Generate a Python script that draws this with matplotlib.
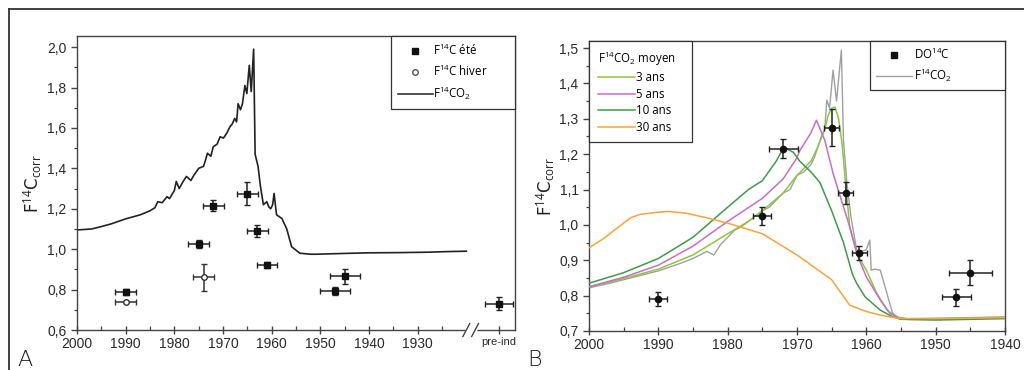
import matplotlib
matplotlib.use("Agg")
import matplotlib.pyplot as plt
from matplotlib.lines import Line2D
from matplotlib.ticker import FuncFormatter, MultipleLocator, FixedLocator

plt.rcParams['mathtext.fontset'] = 'custom'
plt.rcParams['mathtext.rm'] = 'Open Sans'
plt.rcParams['mathtext.it'] = 'Open Sans:italic'
plt.rcParams['mathtext.bf'] = 'Open Sans:bold'

# ---------------- Panel A data ----------------
co2A_years = [2000, 1997, 1995.3, 1993, 1990, 1987, 1985, 1984, 1983.4, 1982.5, 1981.5, 1981, 1980,
              1979.6, 1979, 1978.2, 1977.5, 1976.6, 1976, 1975, 1974, 1973.6, 1973.2, 1972.5, 1972,
              1971.2, 1970.6, 1969.9, 1969.2, 1968.6, 1968.1, 1967.6, 1967.2, 1966.9, 1966.4, 1966,
              1965.5, 1965.1, 1964.6, 1964.2, 1963.7, 1963.4, 1962.8, 1962.3, 1961.7, 1961, 1960.6,
              1960.2, 1959.8, 1959.5, 1959, 1957.9, 1956.9, 1955.9, 1954.2, 1952, 1950.8, 1948,
              1943.3, 1940, 1933.8, 1928, 1924, 1920]
co2A_vals = [1.095, 1.10, 1.11, 1.125, 1.15, 1.17, 1.19, 1.205, 1.235, 1.23, 1.26, 1.25, 1.29,
             1.335, 1.30, 1.335, 1.36, 1.34, 1.365, 1.40, 1.41, 1.44, 1.475, 1.46, 1.507,
             1.52, 1.556, 1.55, 1.575, 1.605, 1.62, 1.647, 1.63, 1.72, 1.69, 1.72,
             1.81, 1.77, 1.91, 1.78, 1.99, 1.47, 1.41, 1.31, 1.22, 1.235, 1.21,
             1.20, 1.22, 1.276, 1.17, 1.152, 1.10, 1.012, 0.98, 0.975, 0.975, 0.977,
             0.98, 0.982, 0.983, 0.985, 0.988, 0.99]

ete_years = [1990, 1975, 1972, 1965, 1963, 1961, 1947, 1945, 1913.3]
ete_vals = [0.79, 1.025, 1.215, 1.275, 1.09, 0.92, 0.795, 0.865, 0.73]
ete_xerr = [2.2, 2.1, 2.15, 2.15, 2.15, 2.05, 3.1, 3.1, 2.8]
ete_yerr = [0.015, 0.02, 0.026, 0.055, 0.03, 0.015, 0.02, 0.037, 0.031]

hiver_years = [1990, 1974]
hiver_vals = [0.74, 0.86]
hiver_xerr = [2.2, 2.2]
hiver_yerr = [0.0, 0.066]

xticksA = [2000, 1990, 1980, 1970, 1960, 1950, 1940, 1930, 1913.3]
xlabelsA = ['2000', '1990', '1980', '1970', '1960', '1950', '1940', '1930', 'pre-ind']

# ---------------- Panel B data ----------------
co2B_years = [2000, 1997, 1995, 1992, 1990, 1987, 1985, 1983, 1982, 1981, 1980, 1979, 1978, 1977,
              1976, 1975, 1974, 1973, 1972, 1971, 1970, 1969, 1968.5, 1968, 1967.5, 1967, 1966.5,
              1966, 1965.7, 1965.3, 1964.8, 1964.3, 1963.6, 1963.3, 1962.8, 1962.2, 1961.4,
              1960.7, 1960, 1959.5, 1959.3, 1958.8, 1958, 1957.3, 1956.8, 1956.2, 1955.3, 1954,
              1950, 1945, 1940]
co2B_vals = [0.822, 0.835, 0.845, 0.86, 0.87, 0.89, 0.905, 0.925, 0.915, 0.945, 0.965, 0.985, 0.995,
             1.01, 1.025, 1.04, 1.05, 1.07, 1.09, 1.10, 1.14, 1.15, 1.16, 1.17, 1.19, 1.22, 1.25,
             1.27, 1.353, 1.33, 1.438, 1.35, 1.494, 1.24, 1.118, 1.02, 0.93,
             0.925, 0.93, 0.957, 0.872, 0.875, 0.872, 0.825, 0.79, 0.75, 0.737, 0.735,
             0.736, 0.738, 0.74]

m3_years = [2000, 1995, 1990, 1985, 1980, 1977, 1975, 1972, 1970, 1968, 1967, 1966, 1965.5, 1965,
            1964.5, 1964, 1963.5, 1963, 1962.4, 1961.4, 1960, 1958.5, 1957, 1955.7, 1954, 1950,
            1945, 1940]
m3_vals = [0.825, 0.848, 0.875, 0.915, 0.975, 1.01, 1.04, 1.09, 1.14, 1.18, 1.22, 1.27, 1.31, 1.33,
           1.333, 1.30, 1.23, 1.12, 0.995, 0.92, 0.872, 0.807, 0.759, 0.74, 0.734, 0.734,
           0.736, 0.738]

m5_years = [2000, 1995, 1990, 1985, 1980, 1975, 1972, 1970, 1969.6, 1968, 1967.2, 1966, 1964.8,
            1963.6, 1962.4, 1961.2, 1960, 1958, 1956.6, 1955.2, 1954, 1950, 1940]
m5_vals = [0.825, 0.852, 0.886, 0.94, 1.01, 1.075, 1.13, 1.19, 1.21, 1.26, 1.296, 1.24, 1.146,
           1.07, 0.995, 0.91, 0.853, 0.788, 0.75, 0.735, 0.733, 0.733, 0.737]

m10_years = [2000, 1995, 1990, 1985, 1980, 1977, 1975, 1973, 1971.9, 1970.5, 1969.6, 1968, 1966.7,
             1965, 1963.3, 1962, 1961.4, 1960.2, 1958, 1956.2, 1955, 1950, 1940]
m10_vals = [0.835, 0.865, 0.905, 0.965, 1.05, 1.10, 1.125, 1.18, 1.22, 1.205, 1.18, 1.15, 1.12,
            1.04, 0.95, 0.86, 0.835, 0.797, 0.759, 0.74, 0.733, 0.731, 0.735]

m30_years = [2000, 1998, 1996, 1994, 1992.6, 1990, 1988.5, 1986, 1983, 1980, 1975, 1970, 1965,
             1962.4, 1960, 1958, 1956.6, 1955, 1950, 1945, 1940]
m30_vals = [0.935, 0.96, 0.99, 1.02, 1.03, 1.036, 1.038, 1.033, 1.02, 1.005, 0.975, 0.915, 0.845,
            0.773, 0.755, 0.745, 0.74, 0.735, 0.735, 0.736, 0.738]

do_years = [1990, 1975, 1972, 1965, 1963, 1961, 1947, 1945]
do_vals = [0.79, 1.025, 1.215, 1.275, 1.09, 0.92, 0.795, 0.865]
do_xerr = [1.3, 1.3, 2.1, 1.1, 1.1, 1.1, 2.1, 3.1]
do_yerr = [0.02, 0.025, 0.027, 0.053, 0.03, 0.02, 0.024, 0.036]

# ---------------- Figure ----------------
W, H = 1024, 370
fig = plt.figure(figsize=(W / 100, H / 100), dpi=100)
fig.patch.set_facecolor('white')

# outer frame
fig.add_artist(Line2D([9 / W, 9 / W], [0, 1 - 9 / H], color='#333333', lw=1.3))
fig.add_artist(Line2D([9 / W, 1], [1 - 9 / H, 1 - 9 / H], color='#333333', lw=1.3))

comma = FuncFormatter(lambda v, p: ('%.1f' % v).replace('.', ','))
leg_font = {'family': 'Open Sans', 'size': 8.3}


def style_axes(ax):
    for s in ax.spines.values():
        s.set_color('#444444')
        s.set_linewidth(1.0)
    ax.tick_params(axis='both', which='major', colors='#444444', labelcolor='#2a2a2a',
                   labelsize=10, width=1.0)
    ax.tick_params(axis='y', which='major', direction='out', length=4)
    ax.tick_params(axis='y', which='minor', direction='out', length=2.5, width=0.9, colors='#444444')
    ax.tick_params(axis='x', which='major', direction='inout', length=6, pad=2)
    ax.tick_params(axis='x', which='minor', direction='in', length=3, width=0.9, colors='#444444')
    ax.yaxis.set_major_formatter(comma)
    for lab in ax.get_xticklabels() + ax.get_yticklabels():
        lab.set_family('Liberation Sans')


# ---- Panel A ----
axA = fig.add_axes([77 / W, 1 - 330 / H, (515 - 77) / W, (330 - 36) / H])
axA.plot(co2A_years, co2A_vals, color='#222222', lw=1.2, zorder=2)
axA.errorbar(ete_years, ete_vals, xerr=ete_xerr, yerr=ete_yerr, fmt='s', ms=4.5,
             color='#111111', mfc='#111111', mec='#111111', ecolor='#222222',
             elinewidth=1.1, capsize=2.2, capthick=1.0, zorder=4)
axA.errorbar(hiver_years, hiver_vals, xerr=hiver_xerr, yerr=hiver_yerr, fmt='o', ms=4,
             mfc='white', mec='#333333', ecolor='#333333', elinewidth=1.1, capsize=2.2,
             capthick=1.0, zorder=4)
axA.set_xlim(2000, 1910)
axA.set_ylim(0.6, 2.055)
axA.xaxis.set_major_locator(FixedLocator(xticksA))
axA.set_xticklabels(xlabelsA)
axA.xaxis.set_minor_locator(FixedLocator(list(range(1995, 1920, -10))))
axA.yaxis.set_major_locator(MultipleLocator(0.2))
axA.yaxis.set_minor_locator(MultipleLocator(0.1))
style_axes(axA)
axA.get_xticklabels()[-1].set_fontsize(8)
axA.set_ylabel(r'F$^{\mathrm{14}}$C$_{\mathrm{corr}}$', fontsize=12, labelpad=2, color='#222222')

# axis break
xt = axA.get_xaxis_transform()
axA.plot([1920.3, 1917.9], [0, 0], transform=xt, color='white', lw=2.5, clip_on=False, zorder=5,
         solid_capstyle='butt')
for xb in (1920.0, 1918.2):
    axA.plot([xb + 0.7, xb - 0.7], [-0.022, 0.022], transform=xt, color='#444444', lw=1.0,
             clip_on=False, zorder=6)

hA = [Line2D([], [], ls='none', marker='s', ms=4, color='#111111'),
      Line2D([], [], ls='none', marker='o', ms=4, mfc='white', mec='#555555'),
      Line2D([], [], color='#333333', lw=1.2)]
lA = axA.legend(hA, [r'F$^{\mathrm{14}}$C été', r'F$^{\mathrm{14}}$C hiver',
                     r'F$^{\mathrm{14}}$CO$_{\mathrm{2}}$'],
                loc='upper right', bbox_to_anchor=(0.717, 0.0, 0.283, 1.0), mode='expand',
                borderaxespad=0, prop=leg_font,
                fancybox=False, framealpha=1, edgecolor='#333333', handlelength=3.0,
                labelspacing=0.5, handletextpad=0.05, borderpad=0.6)
lA.get_frame().set_linewidth(0.9)

# ---- Panel B ----
axB = fig.add_axes([589 / W, 1 - 331 / H, (1005 - 589) / W, (331 - 41) / H])
l3, = axB.plot(m3_years, m3_vals, color='#8dc63f', lw=1.1, zorder=3)
l5, = axB.plot(m5_years, m5_vals, color='#c86ec4', lw=1.1, zorder=3)
l10, = axB.plot(m10_years, m10_vals, color='#3f9a4a', lw=1.1, zorder=3)
l30, = axB.plot(m30_years, m30_vals, color='#f5a53a', lw=1.1, zorder=3)
lg, = axB.plot(co2B_years, co2B_vals, color='#a0a0a0', lw=1.0, zorder=2)
axB.errorbar(do_years, do_vals, xerr=do_xerr, yerr=do_yerr, fmt='o', ms=4.5,
             color='#111111', ecolor='#222222', elinewidth=1.1, capsize=2.2, capthick=1.0, zorder=5)
axB.set_xlim(2000, 1940)
axB.set_ylim(0.7, 1.52)
axB.xaxis.set_major_locator(MultipleLocator(10))
axB.xaxis.set_minor_locator(MultipleLocator(5))
axB.xaxis.set_major_formatter(FuncFormatter(lambda v, p: '%d' % round(v)))
axB.yaxis.set_major_locator(MultipleLocator(0.1))
axB.yaxis.set_minor_locator(MultipleLocator(0.05))
style_axes(axB)
axB.set_ylabel(r'F$^{\mathrm{14}}$C$_{\mathrm{corr}}$', fontsize=12, labelpad=2, color='#222222')

lB1 = axB.legend([l3, l5, l10, l30], ['3 ans', '5 ans', '10 ans', '30 ans'],
                 title=r'F$^{\mathrm{14}}$CO$_{\mathrm{2}}$ moyen', title_fontproperties=leg_font,
                 loc='upper left', bbox_to_anchor=(0.0, 0.0, 0.248, 1.0), mode='expand',
                 borderaxespad=0, prop=leg_font,
                 fancybox=False, framealpha=1, edgecolor='#333333', handlelength=3.2,
                 labelspacing=0.3, handletextpad=0.1, borderpad=0.75, alignment='left')
lB1.get_frame().set_linewidth(0.9)
axB.add_artist(lB1)
hB = [Line2D([], [], ls='none', marker='s', ms=4, color='#111111'),
      Line2D([], [], color='#a0a0a0', lw=1.0)]
lB2 = axB.legend(hB, [r'DO$^{\mathrm{14}}$C', r'F$^{\mathrm{14}}$CO$_{\mathrm{2}}$'],
                 loc='upper right', bbox_to_anchor=(0.675, 0.0, 0.325, 1.0), mode='expand',
                 borderaxespad=0, prop=leg_font,
                 fancybox=False, framealpha=1, edgecolor='#333333', handlelength=3.2,
                 labelspacing=0.4, handletextpad=0.1, borderpad=0.5)
lB2.get_frame().set_linewidth(0.9)

# panel letters
fig.text(17 / W, 1 - 366 / H, 'A', fontsize=16, family='DejaVu Sans', fontweight='light',
         color='#1a1a1a')
fig.text(527 / W, 1 - 366 / H, 'B', fontsize=16, family='DejaVu Sans', fontweight='light',
         color='#1a1a1a')

fig.savefig('out.png', dpi=100, facecolor='white')
